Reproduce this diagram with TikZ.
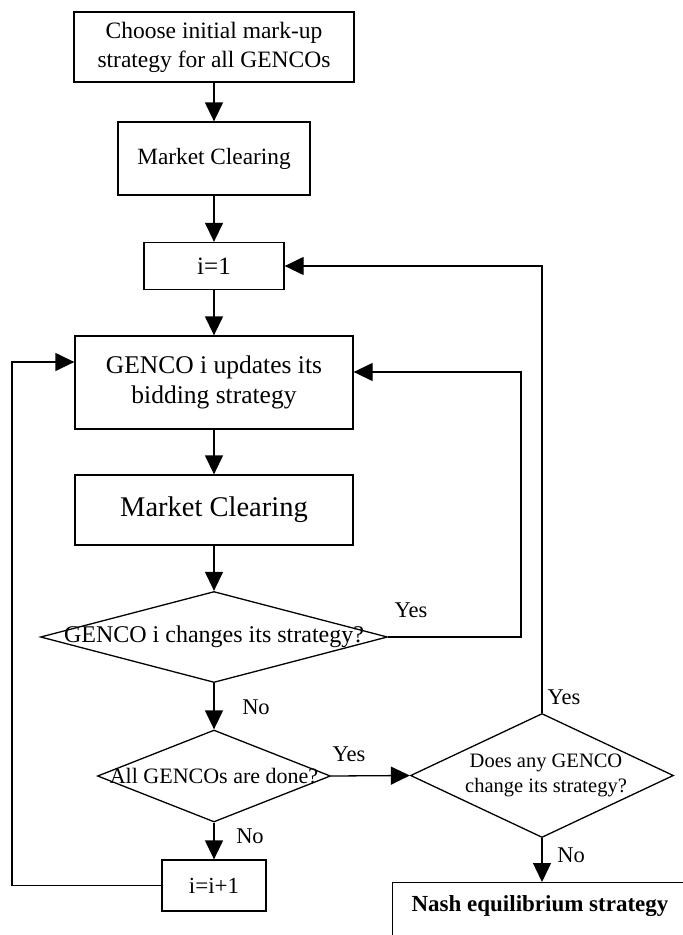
\documentclass[tikz,border=0pt]{standalone}
\usepackage{fontspec}
\setmainfont{Liberation Serif}
\usetikzlibrary{shapes.geometric,arrows.meta}
\tikzset{
  box/.style={draw, line width=1.3pt, inner sep=0pt, align=center},
  dia/.style={draw, diamond, line width=1.3pt, inner sep=0pt},
  arr/.style={line width=1.3pt, -{Triangle[length=19pt,width=18pt]}},
  ln/.style={line width=1.3pt},
  lbl/.style={inner sep=0pt, font=\fontsize{22.5}{26}\selectfont},
}
\begin{document}
\begin{tikzpicture}[x=1pt,y=-1pt]
\path[use as bounding box, clip] (0,0) rectangle (683,935);
% boxes
\node[box, minimum width=280, minimum height=70, font=\fontsize{23.5}{29}\selectfont] (b1) at (214,47) {Choose initial mark-up\\strategy for all GENCOs};
\node[box, minimum width=192, minimum height=73, font=\fontsize{23.3}{28}\selectfont] (b2) at (214,158.5) {Market Clearing};
\node[box, minimum width=140, minimum height=47, font=\fontsize{25}{30}\selectfont] (i1) at (214,266) {i=1};
\node[box, minimum width=278, minimum height=93, font=\fontsize{25.5}{30}\selectfont] (g) at (214,382.5) {GENCO i updates its\\bidding strategy};
\node[box, minimum width=278, minimum height=70, font=\fontsize{28.5}{32}\selectfont] (mc) at (214,510) {Market Clearing};
\node[box, minimum width=104, minimum height=51, font=\fontsize{23}{28}\selectfont] (i2) at (214,885.5) {i=i+1};
\node[box, anchor=north west, minimum width=340, minimum height=120] (nash) at (392,882) {};
\node[inner sep=0pt, font=\fontsize{23}{28}\selectfont\bfseries] (nasht) at (540,906) {Nash equilibrium strategy};
% diamonds
\node[dia, minimum width=347, minimum height=91] (d1) at (214,637) {};
\node[inner sep=0pt, font=\fontsize{24}{28}\selectfont] (d1t) at (d1.center) {GENCO i changes its strategy?};
\node[dia, minimum width=233, minimum height=92] (d2) at (214,776) {};
\node[inner sep=0pt, font=\fontsize{22}{26}\selectfont] (d2t) at (d2.center) {All GENCOs are done?};
\node[dia, minimum width=263, minimum height=124] (d3) at (542,775.5) {};
\node[inner sep=0pt, align=center, font=\fontsize{20.5}{25}\selectfont] (d3t) at (546,775) {Does any GENCO\\change its strategy?};
% coordinates
\coordinate (k1) at (521,372);
\coordinate (k3) at (12,362);
% connectors
\draw[arr] (b1) -- (b2);
\draw[arr] (b2) -- (i1);
\draw[arr] (i1) -- (g);
\draw[arr] (g) -- (mc);
\draw[arr] (mc) -- (d1);
\draw[arr] (d1) -- (d2);
\draw[arr] (d2) -- (i2);
\draw[arr] (d2.east) -- (d3.west);
\draw[arr] (d1.east) -| (k1) -- (k1 -| g.east);
\draw[arr] (d3.north) |- (i1.east);
\draw[arr] (d3.south) -- (d3.south |- nash.north);
\draw[arr] (i2.west) -| (k3) -- (k3 -| g.west);
% labels
\node[lbl] (y1) at (411,610) {Yes};
\node[lbl] (n1) at (256,707) {No};
\node[lbl] (y2) at (349,754) {Yes};
\node[lbl] (y3) at (564,697) {Yes};
\node[lbl] (n2) at (250,836) {No};
\node[lbl] (n3) at (571,855) {No};
\end{tikzpicture}
\end{document}
